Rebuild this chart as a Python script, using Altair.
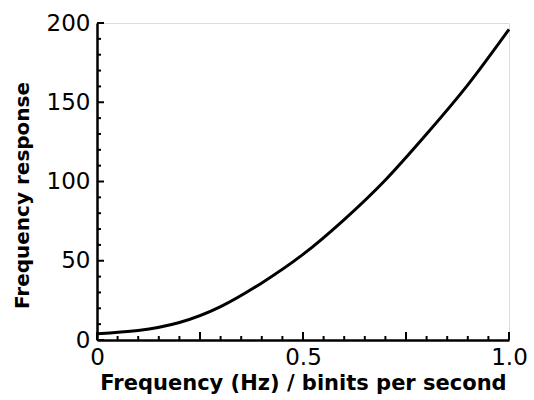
import altair as alt
import pandas as pd

# Curve values
freq = [0.0, 0.1, 0.2, 0.3, 0.4, 0.5, 0.6, 0.7, 0.8, 0.9, 1.0]
response = [4, 6, 11, 21, 36, 54, 76, 101, 130, 161, 196]

# Axis tick positions
x_major = [0.0, 0.25, 0.5, 0.75, 1.0]
x_minor = [0.05, 0.1, 0.15, 0.2, 0.3, 0.35, 0.4, 0.45, 0.55, 0.6, 0.65, 0.7, 0.8, 0.85, 0.9, 0.95]
x_labels = [0.0, 0.5, 1.0]
y_major = [0, 50, 100, 150, 200]
y_minor = [10, 20, 30, 40, 60, 70, 80, 90, 110, 120, 130, 140, 160, 170, 180, 190]

W, H = 412, 317
FONT = "DejaVu Sans"

curve_df = pd.DataFrame({"f": freq, "r": response})
xs = alt.Scale(domain=[0, 1], nice=False, zero=False)
ys = alt.Scale(domain=[0, 200], nice=False)

curve = alt.Chart(curve_df).mark_line(
    color="black", strokeWidth=3, interpolate="natural"
).encode(
    x=alt.X("f:Q", scale=xs, axis=alt.Axis(
        values=x_labels, ticks=False, grid=False, domainColor="black", domainWidth=2.5,
        labelExpr="datum.value == 0 ? '0' : format(datum.value, '.1f')",
        labelFlush=False,
        labelFont=FONT, labelFontSize=23, labelColor="black", labelPadding=6,
        title="Frequency (Hz) / binits per second", titleFont=FONT, titleFontSize=21,
        titleFontWeight="bold", titleColor="black", titlePadding=3)),
    y=alt.Y("r:Q", scale=ys, axis=alt.Axis(
        values=y_major, ticks=False, grid=False, domainColor="black", domainWidth=2.5,
        labelFlush=False,
        labelFont=FONT, labelFontSize=23, labelColor="black", labelPadding=7,
        title="Frequency response", titleFont=FONT, titleFontSize=20,
        titleFontWeight="bold", titleColor="black", titleX=-75, titleY=172,
        titleAlign="center", titleBaseline="middle")),
)

def xticks(vals, length):
    df = pd.DataFrame({"f": vals})
    return alt.Chart(df).mark_rule(color="black", strokeWidth=2).encode(
        x=alt.X("f:Q", scale=xs), y=alt.value(H), y2=alt.value(H - length))

def yticks(vals, length):
    df = pd.DataFrame({"r": vals})
    return alt.Chart(df).mark_rule(color="black", strokeWidth=2).encode(
        y=alt.Y("r:Q", scale=ys), x=alt.value(0), x2=alt.value(length))

chart = alt.layer(
    curve,
    xticks(x_major, 8), xticks(x_minor, 4),
    yticks(y_major, 7), yticks(y_minor, 4),
).properties(
    width=W, height=H,
    autosize=alt.AutoSizeParams(type="none"),
    padding={"left": 97, "top": 23, "right": 25, "bottom": 60},
).configure_view(stroke=None).configure(background="white")

chart.save("out.html", embed_options={"renderer": "svg", "actions": False})
